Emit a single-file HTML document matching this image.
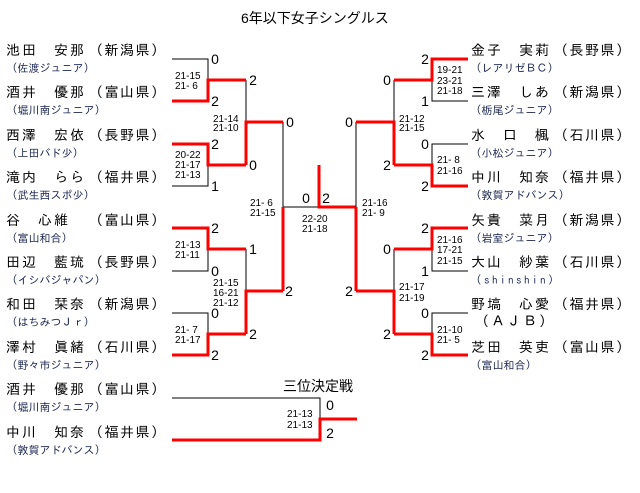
<!DOCTYPE html>
<html><head><meta charset="utf-8"><style>
html,body{margin:0;padding:0;background:#fff;width:640px;height:493px;overflow:hidden}
svg{display:block}
.n{font-family:"IPAGothic","Noto Sans CJK JP",sans-serif;font-size:14px;letter-spacing:2px;fill:#000}
.p{font-family:"IPAGothic","Noto Sans CJK JP",sans-serif;font-size:14px;letter-spacing:1.5px;fill:#000}
.s{font-family:"IPAGothic","Noto Sans CJK JP",sans-serif;font-size:11px;fill:#1a2550}
.sc{font-family:"Liberation Sans",sans-serif;font-size:10px;fill:#000}
.d{font-family:"Liberation Sans",sans-serif;font-size:14px;fill:#000;text-anchor:middle}
.t{font-family:"Liberation Sans","Noto Sans CJK JP",sans-serif;font-size:14px;fill:#000}
.k{stroke:#000;stroke-width:1;fill:none}
.r{stroke:#f00;stroke-width:3;fill:none}
</style></head><body>
<svg width="640" height="493" xmlns="http://www.w3.org/2000/svg">
<text class="t" x="241" y="23">6年以下女子シングルス</text>
<text class="t" x="283" y="391">三位決定戦</text>

<!-- Left names -->
<g>
<text class="n" x="6" y="55">池田　安那</text><text class="p" x="89" y="55">（新潟県）</text><text class="s" x="12" y="72">(佐渡ジュニア)</text>
<text class="n" x="6" y="97">酒井　優那</text><text class="p" x="89" y="97">（富山県）</text><text class="s" x="12" y="114">(堀川南ジュニア)</text>
<text class="n" x="6" y="140">西澤　宏依</text><text class="p" x="89" y="140">（長野県）</text><text class="s" x="12" y="157">(上田バド少)</text>
<text class="n" x="6" y="182">滝内　らら</text><text class="p" x="89" y="182">（福井県）</text><text class="s" x="12" y="199">(武生西スポ少)</text>
<text class="n" x="6" y="225">谷　心維</text><text class="p" x="89" y="225">（富山県）</text><text class="s" x="12" y="242">(富山和合)</text>
<text class="n" x="6" y="267">田辺　藍琉</text><text class="p" x="89" y="267">（長野県）</text><text class="s" x="12" y="284">(イシバジャパン)</text>
<text class="n" x="6" y="309">和田　栞奈</text><text class="p" x="89" y="309">（新潟県）</text><text class="s" x="12" y="326">(はちみつＪｒ)</text>
<text class="n" x="6" y="352">澤村　眞緒</text><text class="p" x="89" y="352">（石川県）</text><text class="s" x="12" y="369">(野々市ジュニア)</text>
<text class="n" x="6" y="394">酒井　優那</text><text class="p" x="89" y="394">（富山県）</text><text class="s" x="12" y="411">(堀川南ジュニア)</text>
<text class="n" x="6" y="437">中川　知奈</text><text class="p" x="89" y="437">（福井県）</text><text class="s" x="12" y="454">(敦賀アドバンス)</text>
</g>
<!-- Right names -->
<g>
<text class="n" x="471" y="55">金子　実莉</text><text class="p" x="554" y="55">（長野県）</text><text class="s" x="476" y="72">(レアリゼＢＣ)</text>
<text class="n" x="471" y="97">三澤　しあ</text><text class="p" x="554" y="97">（新潟県）</text><text class="s" x="476" y="114">(栃尾ジュニア)</text>
<text class="n" x="471" y="140">水　口　楓</text><text class="p" x="554" y="140">（石川県）</text><text class="s" x="476" y="157">(小松ジュニア)</text>
<text class="n" x="471" y="182">中川　知奈</text><text class="p" x="554" y="182">（福井県）</text><text class="s" x="476" y="199">(敦賀アドバンス)</text>
<text class="n" x="471" y="225">矢貴　菜月</text><text class="p" x="554" y="225">（新潟県）</text><text class="s" x="476" y="242">(岩室ジュニア)</text>
<text class="n" x="471" y="267">大山　紗葉</text><text class="p" x="554" y="267">（石川県）</text><text class="s" x="476" y="284" letter-spacing="2.5">(shinshin)</text>
<text class="n" x="471" y="309">野塙　心愛</text><text class="p" x="554" y="309">（福井県）</text><text class="n" x="475" y="326">（ＡＪＢ）</text>
<text class="n" x="471" y="352">芝田　英吏</text><text class="p" x="554" y="352">（富山県）</text><text class="s" x="476" y="369">(富山和合)</text>
</g>

<!-- Left bracket black -->
<path class="k" d="M172 59H208V80 M208 165V186H172 M172 271H208V249 M172 313H208V334 M246 80V122 M246 249V291 M283 122V207H319 M172 398H320V419"/>
<!-- Left red -->
<path class="r" d="M172 101H208V80H246 M172 144H208V165H246 M246 165V122H283 M172 228H208V249H246 M172 355H208V334H246 M246 334V291H283 M283 291V207 M319 165V207H356 M172 440H320V419H357"/>
<!-- Right black -->
<path class="k" d="M468 101H432V80 M468 144H432V165 M394 165V122 M394 80V122 M468 271H432V249 M468 313H432V334 M394 249V291 M356 122V207"/>
<!-- Right red -->
<path class="r" d="M468 59H432V80H394 M468 186H432V165H394 M394 165V122H356 M468 228H432V249H394 M468 355H432V334H394 M394 334V291H356 M356 291V207"/>

<!-- scores -->
<g class="sc">
<text x="175" y="79">21-15</text><text x="175" y="89">21- 6</text>
<text x="175" y="158">20-22</text><text x="175" y="168">21-17</text><text x="175" y="178">21-13</text>
<text x="213" y="122">21-14</text><text x="213" y="131">21-10</text>
<text x="250" y="206">21- 6</text><text x="250" y="216">21-15</text>
<text x="175" y="248">21-13</text><text x="175" y="258">21-11</text>
<text x="213" y="286">21-15</text><text x="213" y="296">16-21</text><text x="213" y="306">21-12</text>
<text x="175" y="333">21- 7</text><text x="175" y="343">21-17</text>
<text x="302" y="222">22-20</text><text x="302" y="232">21-18</text>
<text x="287" y="417">21-13</text><text x="287" y="428">21-13</text>
<text x="437" y="73">19-21</text><text x="437" y="84">23-21</text><text x="437" y="94">21-18</text>
<text x="399" y="122">21-12</text><text x="399" y="131">21-15</text>
<text x="362" y="206">21-16</text><text x="362" y="216">21- 9</text>
<text x="437" y="163">21- 8</text><text x="437" y="174">21-16</text>
<text x="437" y="243">21-16</text><text x="437" y="253">17-21</text><text x="437" y="264">21-15</text>
<text x="399" y="290">21-17</text><text x="399" y="301">21-19</text>
<text x="437" y="333">21-10</text><text x="437" y="343">21- 5</text>
</g>

<!-- game counts -->
<g class="d">
<text x="215" y="64">0</text><text x="215" y="106">2</text>
<text x="215" y="149">2</text><text x="215" y="191">1</text>
<text x="215" y="233">2</text><text x="215" y="276">0</text>
<text x="215" y="318">0</text><text x="215" y="360">2</text>
<text x="253" y="85">2</text><text x="253" y="170">0</text>
<text x="253" y="254">1</text><text x="253" y="339">2</text>
<text x="290" y="127">0</text><text x="289" y="296">2</text>
<text x="306" y="203">0</text><text x="326" y="203">2</text>
<text x="330" y="410">0</text><text x="330" y="438">2</text>
<text x="425" y="64">2</text><text x="425" y="106">1</text>
<text x="425" y="149">0</text><text x="425" y="191">2</text>
<text x="425" y="233">2</text><text x="425" y="276">1</text>
<text x="425" y="318">0</text><text x="425" y="360">2</text>
<text x="387" y="85">0</text><text x="387" y="170">2</text>
<text x="387" y="254">0</text><text x="387" y="339">2</text>
<text x="349" y="127">0</text><text x="349" y="296">2</text>
</g>
</svg>
</body></html>
